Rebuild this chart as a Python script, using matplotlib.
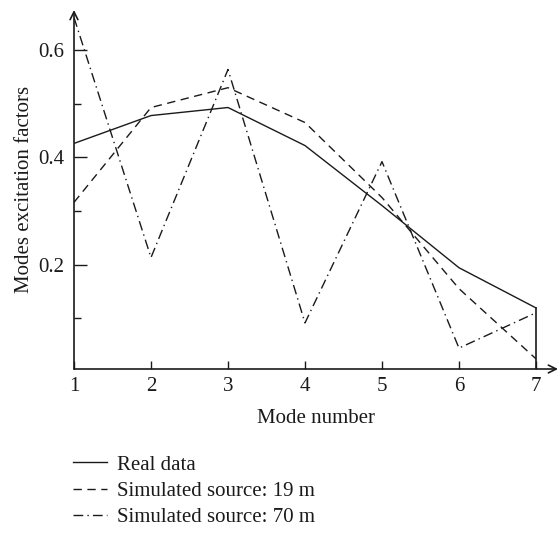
import numpy as np
import matplotlib
matplotlib.use('Agg')
import matplotlib.pyplot as plt
from matplotlib.ticker import FixedLocator

modes = [1, 2, 3, 4, 5, 6, 7]
real_data = [0.426, 0.478, 0.493, 0.422, 0.310, 0.194, 0.119]
sim_19m = [0.316, 0.493, 0.530, 0.465, 0.325, 0.155, 0.024]
sim_70m = [0.661, 0.213, 0.564, 0.091, 0.392, 0.044, 0.110]
labels = ['Real data', 'Simulated source: 19 m', 'Simulated source: 70 m']

plt.rcParams['font.family'] = ['Liberation Serif', 'DejaVu Serif']
fs = 15
col = '#1a1a1a'

fig = plt.figure(figsize=(5.59, 5.33), dpi=100)
ax = fig.add_axes([74 / 559, 1 - 369 / 533, 484 / 559, 359 / 533])

l1, = ax.plot(modes, real_data, color=col, lw=1.0, ls='-', label=labels[0])
l2, = ax.plot(modes, sim_19m, color=col, lw=1.0, ls=(0, (6, 4)), label=labels[1])
l3, = ax.plot(modes, sim_70m, color=col, lw=1.0, ls=(0, (7, 3, 1, 3)), label=labels[2])
# closing vertical segment of the real data curve down to the axis
ax.plot([modes[-1], modes[-1]], [real_data[-1], 0.005], color=col, lw=1.2)

ax.set_xlim(1, 7.286)
ax.set_ylim(0.005, 0.675)

for s in ['top', 'right', 'left', 'bottom']:
    ax.spines[s].set_visible(False)
# axis arrows
ax.annotate('', xy=(1.0, 0), xytext=(0, 0), xycoords='axes fraction',
            arrowprops=dict(arrowstyle='->', lw=1.2, color=col, shrinkA=0, shrinkB=0,
                            mutation_scale=14))
ax.annotate('', xy=(0, 1.0), xytext=(0, 0), xycoords='axes fraction',
            arrowprops=dict(arrowstyle='->', lw=1.2, color=col, shrinkA=0, shrinkB=0,
                            mutation_scale=14))

ax.set_xticks(modes)
ax.set_yticks([0.2, 0.4, 0.6])
ax.set_yticklabels(['0.2', '0.4', '0.6'])
ax.yaxis.set_minor_locator(FixedLocator([0.1, 0.3, 0.5]))
ax.tick_params(axis='both', which='major', direction='in', labelsize=fs,
               color=col, labelcolor=col, width=1.0)
ax.tick_params(axis='y', which='major', length=9, pad=7)
ax.tick_params(axis='x', which='major', length=6, pad=6)
ax.tick_params(axis='y', which='minor', direction='in', length=5, width=1.0, color=col)

ax.set_xlabel('Mode number', fontsize=fs, color=col, labelpad=9)
ax.set_ylabel('Modes excitation factors', fontsize=fs, color=col, labelpad=3)

fig.legend(handles=[l1, l2, l3], loc='upper left', bbox_to_anchor=(73 / 559, 1 - 455 / 533),
           frameon=False, fontsize=fs, handlelength=1.65, handletextpad=0.45,
           labelspacing=0.33, borderpad=0, borderaxespad=0, labelcolor=col)

fig.savefig('out.png', dpi=100)
